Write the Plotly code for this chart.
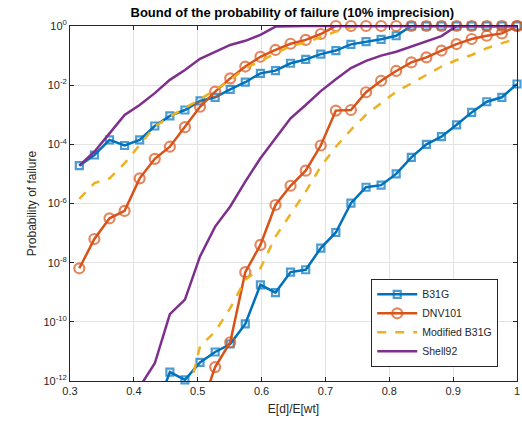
import plotly.graph_objects as go

# ---- data (log10 of probability of failure) ----
ratio = [0.3146, 0.3382, 0.3619, 0.3855, 0.4091, 0.4328, 0.4564, 0.4800, 0.5036, 0.5273,
         0.5509, 0.5745, 0.5982, 0.6218, 0.6454, 0.6691, 0.6927, 0.7163, 0.7399, 0.7636,
         0.7872, 0.8108, 0.8345, 0.8581, 0.8817, 0.9054, 0.9290, 0.9526, 0.9763, 1.0000]

b31g_upper = [-4.72, -4.36, -3.85, -4.04, -3.85, -3.38, -3.04, -2.84, -2.53, -2.41,
              -2.14, -1.90, -1.60, -1.51, -1.26, -1.13, -0.95, -0.83, -0.62, -0.53,
              -0.45, -0.33, 0, 0, 0, 0, 0, 0, 0, 0]
b31g_lower = [None, None, None, None, None, -13.05, -11.70, -11.96, -11.37, -11.02,
              -10.75, -10.07, -8.75, -9.01, -8.32, -8.24, -7.51, -6.98, -5.99, -5.45,
              -5.38, -5.00, -4.44, -4.00, -3.74, -3.34, -2.92, -2.56, -2.41, -1.96]

dnv_upper = [-8.19, -7.20, -6.50, -6.25, -5.15, -4.49, -4.08, -3.42, -2.73, -2.22,
             -1.77, -1.37, -1.04, -0.81, -0.60, -0.47, -0.27, 0, 0, 0,
             0, 0, 0, 0, 0, 0, 0, 0, 0, 0]
dnv_lower = [None, None, None, None, None, None, None, None, -13.0, -11.53,
             -10.69, -8.32, -7.40, -6.05, -5.40, -4.89, -4.04, -2.86, -2.84, -2.24,
             -1.85, -1.52, -1.23, -1.06, -0.83, -0.61, -0.44, -0.33, -0.25, 0]

mb31g_upper = [-5.84, -5.31, -5.15, -4.64, -4.02, -3.40, -3.06, -2.78, -2.48, -2.16,
               -1.82, -1.43, -1.17, -0.92, -0.68, -0.56, -0.38, -0.19, -0.04, 0,
               0, 0, 0, 0, 0, 0, 0, 0, 0, 0]
mb31g_lower = [None, None, None, None, None, None, None, -12.9, -10.83, -10.33,
               -9.54, -8.58, -8.19, -7.12, -6.38, -5.60, -4.75, -4.08, -3.51, -3.00,
               -2.61, -2.22, -1.94, -1.66, -1.37, -1.15, -0.98, -0.75, -0.58, -0.42]

shell_upper = [-4.72, -4.25, -3.63, -3.01, -2.67, -2.27, -1.82, -1.49, -1.11, -0.87,
               -0.64, -0.50, -0.30, -0.02, 0, 0, 0, 0, 0, 0,
               0, 0, 0, 0, 0, 0, 0, 0, 0, 0]
shell_lower = [None, None, None, None, -12.2, -11.4, -9.74, -9.25, -7.79, -6.78,
               -6.10, -5.26, -4.47, -3.79, -3.12, -2.67, -2.20, -1.80, -1.42, -1.18,
               -1.00, -0.87, -0.70, -0.51, -0.34, 0, 0, 0, 0, 0]

series_names = ["B31G", "DNV101", "Modified B31G", "Shell92"]
y_tick_exponents = [0, -2, -4, -6, -8, -10, -12]
y_tick_labels = ["10<sup>%d</sup>" % e for e in y_tick_exponents]
x_tick_values = [0.3, 0.4, 0.5, 0.6, 0.7, 0.8, 0.9, 1.0]
x_tick_labels = ["0.3", "0.4", "0.5", "0.6", "0.7", "0.8", "0.9", "1"]

# ---- styles ----
colors = {"B31G": "#0072BD", "DNV101": "#D95319", "Modified B31G": "#EDB120", "Shell92": "#7E2F8E"}
styles = {
    "B31G": dict(mode="lines+markers", dash="solid", symbol="square-open", msize=7),
    "DNV101": dict(mode="lines+markers", dash="solid", symbol="circle-open", msize=10),
    "Modified B31G": dict(mode="lines", dash="dash", symbol=None, msize=0),
    "Shell92": dict(mode="lines", dash="solid", symbol=None, msize=0),
}
data = {
    "B31G": (b31g_upper, b31g_lower),
    "DNV101": (dnv_upper, dnv_lower),
    "Modified B31G": (mb31g_upper, mb31g_lower),
    "Shell92": (shell_upper, shell_lower),
}

fig = go.Figure()
for name in series_names:
    st = styles[name]
    for k, vals in enumerate(data[name]):
        xs, ys, sizes = [], [], []
        for xv, v in zip(ratio, vals):
            if v is None:
                continue
            xs.append(xv)
            ys.append(10 ** v)
            sizes.append(st["msize"] if v >= -12.1 else 0)
        tr = dict(
            x=xs, y=ys, mode=st["mode"], name=name, legendgroup=name,
            showlegend=(k == 0),
            line=dict(color=colors[name], width=2.5, dash=st["dash"]),
            cliponaxis=False,
        )
        if st["symbol"]:
            tr["marker"] = dict(symbol=st["symbol"], size=sizes, color=colors[name],
                                line=dict(width=2.2, color=colors[name]))
        fig.add_trace(go.Scatter(**tr))

axis_common = dict(
    showline=True, linecolor="#262626", linewidth=1, mirror="ticks",
    ticks="inside", ticklen=4, tickcolor="#262626",
    showgrid=True, gridcolor="#E3E3E3", gridwidth=1, zeroline=False,
    automargin=False,
    tickfont=dict(family="Liberation Sans, Arial, sans-serif", size=11, color="#262626"),
)

fig.update_layout(
    width=522, height=427,
    margin=dict(l=70, r=5, t=26, b=46, autoexpand=False),
    paper_bgcolor="white", plot_bgcolor="white",
    font=dict(family="Liberation Sans, Arial, sans-serif", color="#262626"),
    title=dict(text="<b>Bound of the probability of failure (10% imprecision)</b>",
               x=0.56, xanchor="center", y=0.982, yanchor="top",
               font=dict(size=13, color="black")),
    xaxis=dict(range=[0.3, 1.0], tickvals=x_tick_values, ticktext=x_tick_labels,
               title=dict(text="E[d]/E[wt]", font=dict(size=12, color="#262626"), standoff=8),
               **axis_common),
    yaxis=dict(type="log", range=[-12, 0],
               tickvals=[10 ** e for e in y_tick_exponents], ticktext=y_tick_labels,
               title=dict(text="Probability of failure", font=dict(size=12, color="#262626"), standoff=4),
               **axis_common),
    legend=dict(x=0.958, y=0.04, xanchor="right", yanchor="bottom",
                bgcolor="white", bordercolor="#262626", borderwidth=1,
                font=dict(size=10.5, color="#262626"), tracegroupgap=0,
                itemwidth=40),
)

fig.write_html("out.html", config={"displayModeBar": False},
               post_script="document.body.style.margin='0';document.body.style.padding='0';")
